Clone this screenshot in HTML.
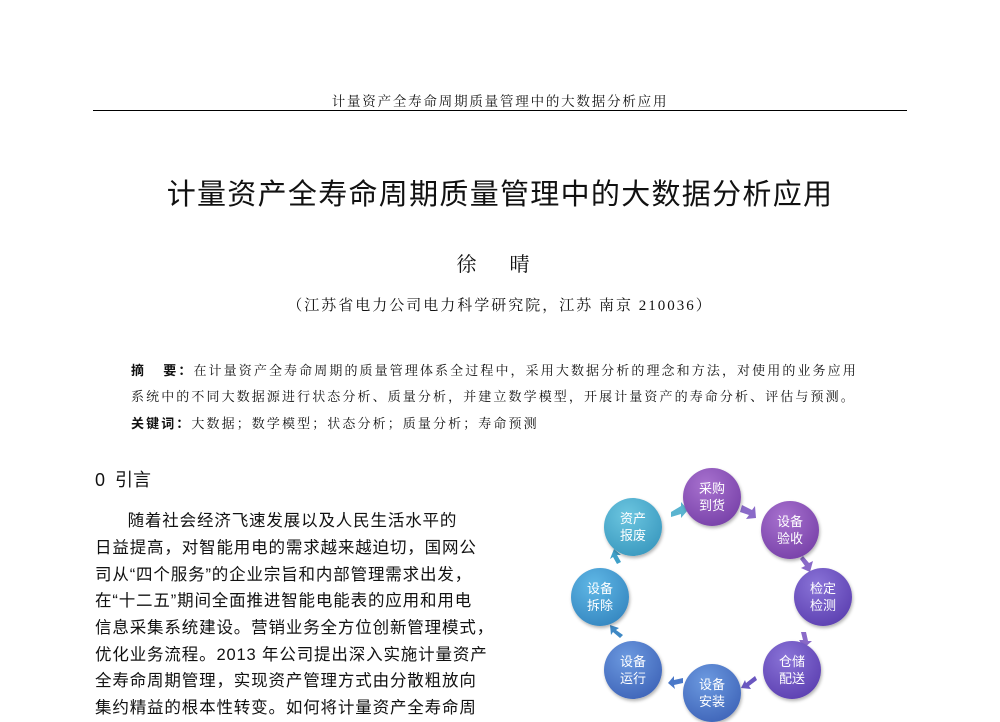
<!DOCTYPE html>
<html><head><meta charset="utf-8"><style>
body{margin:0;width:1000px;height:714px;background:#fff;overflow:hidden;position:relative;font-family:"Liberation Serif","Noto Serif CJK SC",serif;color:#111}
.a{position:absolute;white-space:nowrap}
.hd{left:0;width:1000px;text-align:center;top:90px;font-size:13.5px;letter-spacing:1.8px}
.rule{position:absolute;left:93px;top:110px;width:814px;height:1px;background:#000}
.title{left:0;width:1000px;text-align:center;top:171px;font-size:29px;font-family:"Liberation Sans","Noto Sans CJK SC",sans-serif;letter-spacing:1.3px}
.au{left:0;width:1000px;text-align:center;top:248px;font-size:20px;letter-spacing:14px}
.af{left:0;width:1000px;text-align:center;top:294px;font-size:15px;letter-spacing:2px}
.ab{left:131px;font-size:13px;letter-spacing:2.1px}
.ab b{font-family:"Liberation Sans","Noto Sans CJK SC",sans-serif}
.sec{left:95px;top:466px;font-size:18px;font-family:"Liberation Sans","Noto Sans CJK SC",sans-serif}
.bd{left:95px;font-size:16.5px;font-family:"Liberation Sans","Noto Sans CJK SC",sans-serif;letter-spacing:0.85px}
.c{position:absolute;width:58px;height:58px;border-radius:50%;color:#fff;font-size:13px;line-height:17px;text-align:center;display:flex;align-items:center;justify-content:center;font-family:"Liberation Sans","Noto Sans CJK SC",sans-serif;box-shadow:1px 2px 3px rgba(0,0,0,.3)}
.p{background:radial-gradient(circle at 40% 30%,#a872cf,#6d36a0)}
.v{background:radial-gradient(circle at 40% 30%,#8a74d8,#5234a8)}
.b{background:radial-gradient(circle at 40% 30%,#6c9ae0,#3559b0)}
.t{background:radial-gradient(circle at 40% 30%,#6cc6e0,#2f8fb8)}
.t2{background:radial-gradient(circle at 40% 30%,#60b8e6,#2c7cb8)}
</style></head><body>
<div class="a hd">计量资产全寿命周期质量管理中的大数据分析应用</div>
<div class="rule"></div>
<div class="a title">计量资产全寿命周期质量管理中的大数据分析应用</div>
<div class="a au">徐 晴</div>
<div class="a af">（江苏省电力公司电力科学研究院，江苏 南京 210036）</div>
<div class="a ab" style="top:360px"><b>摘&nbsp;&nbsp;&nbsp;要：</b>在计量资产全寿命周期的质量管理体系全过程中，采用大数据分析的理念和方法，对使用的业务应用</div>
<div class="a ab" style="top:386px">系统中的不同大数据源进行状态分析、质量分析，并建立数学模型，开展计量资产的寿命分析、评估与预测。</div>
<div class="a ab" style="top:413px"><b>关键词：</b>大数据；数学模型；状态分析；质量分析；寿命预测</div>
<div class="a sec">0&nbsp;&nbsp;引言</div>
<div class="a bd" style="top:507px">&nbsp;&nbsp;&nbsp;&nbsp;&nbsp;&nbsp;随着社会经济飞速发展以及人民生活水平的</div>
<div class="a bd" style="top:534px">日益提高，对智能用电的需求越来越迫切，国网公</div>
<div class="a bd" style="top:561px">司从“四个服务”的企业宗旨和内部管理需求出发，</div>
<div class="a bd" style="top:587px">在“十二五”期间全面推进智能电能表的应用和用电</div>
<div class="a bd" style="top:614px">信息采集系统建设。营销业务全方位创新管理模式，</div>
<div class="a bd" style="top:641px">优化业务流程。2013 年公司提出深入实施计量资产</div>
<div class="a bd" style="top:667px">全寿命周期管理，实现资产管理方式由分散粗放向</div>
<div class="a bd" style="top:694px">集约精益的根本性转变。如何将计量资产全寿命周</div>

<svg class="a" style="left:0;top:0" width="1000" height="714">
<g fill="#8a6ac8">
<polygon points="671,512 681,506 681,502 688,510 681,518 681,514 671,517" fill="#5ab4d0"/>
<polygon points="742,505 752,510 755,506 756,518 746,519 749,515 740,512"/>
<polygon points="803,556 809,563 813,561 810,572 801,568 805,566 800,559"/>
<polygon points="806,632 808,641 812,641 804,648 799,640 803,640 801,632"/>
<polygon points="757,680 749,686 751,689 741,688 745,680 746,683 755,676" fill="#6a56c0"/>
<polygon points="683,683 674,685 675,689 668,683 674,676 674,680 683,678" fill="#4a78c8"/>
<polygon points="620,638 613,632 611,635 610,625 619,628 616,630 623,635" fill="#3f88c4"/>
<polygon points="617,564 613,557 610,559 614,549 621,555 617,555 621,562" fill="#3fa0c8"/>
</g>
</svg>
<div class="c p" style="left:683px;top:468px">采购<br>到货</div>
<div class="c p" style="left:761px;top:501px">设备<br>验收</div>
<div class="c v" style="left:794px;top:568px">检定<br>检测</div>
<div class="c v" style="left:763px;top:641px">仓储<br>配送</div>
<div class="c b" style="left:683px;top:664px">设备<br>安装</div>
<div class="c b" style="left:604px;top:641px">设备<br>运行</div>
<div class="c t2" style="left:571px;top:568px">设备<br>拆除</div>
<div class="c t" style="left:604px;top:498px">资产<br>报废</div>
</body></html>
